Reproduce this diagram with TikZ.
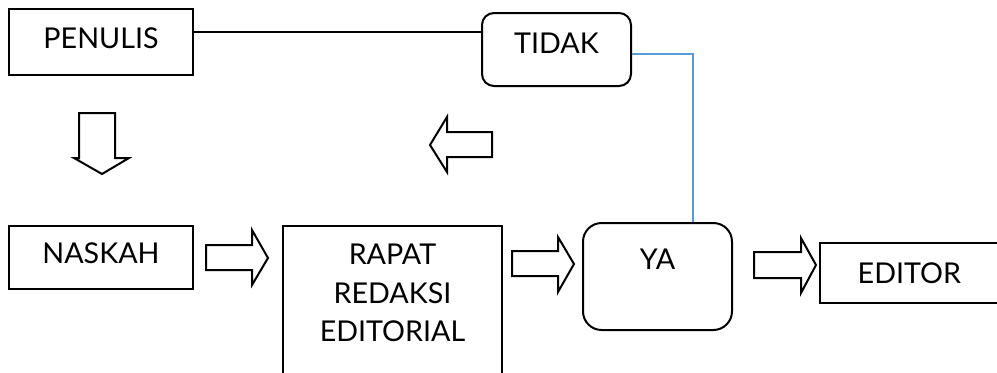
\documentclass[tikz,border=0pt]{standalone}
\usepackage{fontspec}
\setmainfont{Lato}
\usetikzlibrary{calc}
\begin{document}
\begin{tikzpicture}[x=0.75pt,y=-0.75pt,
  txt/.style={font=\fontsize{21.5}{29}\selectfont,align=center,inner sep=0pt},
  box/.style={draw=black,line width=1.5pt,fill=white,inner sep=0pt},
  rbox/.style={box,rounded corners=9pt},
  blockarrow/.style={draw=black,line width=1.5pt,fill=white,line join=miter},
  blueline/.style={draw={rgb,255:red,91;green,155;blue,213},line width=1pt}]
\useasboundingbox (0,0) rectangle (997,372);
\clip (0,0) rectangle (997,372);
\node[box,minimum width=184*0.75pt,minimum height=66*0.75pt,label={[txt,yshift=3pt]center:PENULIS}] (penulis) at (101,42) {};
\node[rbox,minimum width=149*0.75pt,minimum height=73*0.75pt,label={[txt,yshift=5pt]center:TIDAK}] (tidak) at (556.5,49.5) {};
\node[box,minimum width=184*0.75pt,minimum height=63*0.75pt,label={[txt,yshift=3.4pt]center:NASKAH}] (naskah) at (101,257.5) {};
\node[box,minimum width=219*0.75pt,minimum height=180*0.75pt] (rapat) at (392.5,316) {};
\node[txt] (rapattext) at (392.5,293) {RAPAT\\REDAKSI\\EDITORIAL};
\node[rbox,rounded corners=14pt,minimum width=149*0.75pt,minimum height=107*0.75pt,label={[txt,yshift=13pt]center:YA}] (ya) at (657.5,276.5) {};
\node[box,minimum width=200*0.75pt,minimum height=60*0.75pt,label={[txt,xshift=-8pt,yshift=-0.5pt]center:EDITOR}] (editor) at (920,273) {};
% connectors
\draw[line width=1.5pt] ($(penulis.north east)!0.35!(penulis.south east)$) coordinate (p1) -- (p1 -| tidak.west);
\draw[blueline] ($(tidak.north east)!0.56!(tidak.south east)$) coordinate (t1) -- (t1 -| 693,0) coordinate (t2) -- (t2 |- ya.north);
% block arrows
\draw[blockarrow] (79,113) -- (115,113) -- (115,158) -- (129,158) -- (102,174) -- (74,158) -- (79,158) -- cycle;
\draw[blockarrow] (492,132) -- (492,157) -- (447,157) -- (447,172) -- (430,145) -- (447,117) -- (447,132) -- cycle;
\draw[blockarrow] (206,245) -- (252,245) -- (252,230) -- (268,258) -- (252,285) -- (252,270) -- (206,270) -- cycle;
\draw[blockarrow] (512,251) -- (558,251) -- (558,237) -- (574,264) -- (558,292) -- (558,276) -- (512,276) -- cycle;
\draw[blockarrow] (754,252) -- (801,252) -- (801,238) -- (816,265) -- (801,293) -- (801,278) -- (754,278) -- cycle;
\end{tikzpicture}
\end{document}
